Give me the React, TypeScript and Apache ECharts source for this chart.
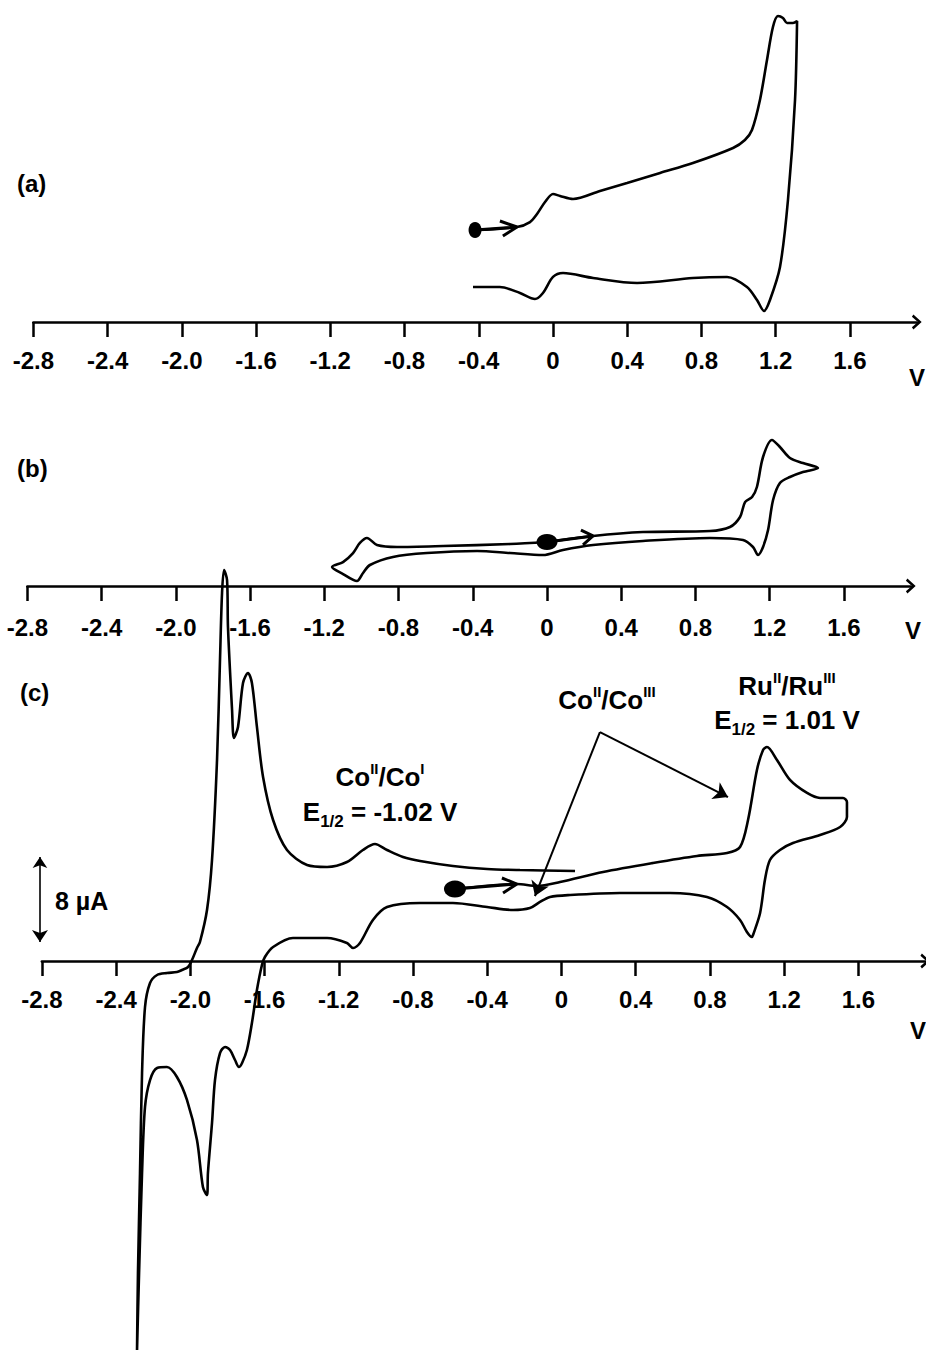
import React, { useEffect, useRef } from "react";
import * as echarts from "echarts";

const FONT = "'Liberation Sans', Arial, Helvetica, sans-serif";

// Potential axis (V)
const TICK_VALUES = [-2.8, -2.4, -2.0, -1.6, -1.2, -0.8, -0.4, 0, 0.4, 0.8, 1.2, 1.6];
const TICK_LABELS = ["-2.8", "-2.4", "-2.0", "-1.6", "-1.2", "-0.8", "-0.4", "0", "0.4", "0.8", "1.2", "1.6"];
const X_MIN = -2.8;
const X_MAX = 1.96;

// Panel (a): [E (V), i (µA)]
const cvA: number[][] = [
  [-0.42, 8.68], [-0.194, 8.96], [-0.124, 9.43], [-0.086, 10.19], [-0.043, 11.32], [0.0, 12.08],
  [0.038, 11.89], [0.108, 11.6], [0.253, 12.36], [0.399, 13.11], [0.577, 14.06], [0.754, 15.0],
  [0.97, 16.42], [1.034, 17.17], [1.072, 18.11], [1.115, 20.94], [1.153, 24.72], [1.185, 27.83],
  [1.212, 28.87], [1.239, 28.68], [1.261, 28.21], [1.293, 28.21], [1.315, 28.4],
  [1.304, 20.94], [1.266, 11.51], [1.223, 5.19], [1.169, 2.08], [1.137, 1.04], [1.099, 2.08],
  [1.045, 3.3], [0.938, 4.25], [0.754, 4.15], [0.453, 3.68], [0.216, 4.15], [0.054, 4.62],
  [0.0, 4.25], [-0.054, 2.74], [-0.097, 2.17], [-0.178, 2.74], [-0.286, 3.3], [-0.431, 3.3],
];

// Panel (b)
const cvB: number[][] = [
  [0.0, 4.15], [0.248, 4.72], [0.517, 5.09], [0.878, 5.19], [0.986, 5.57], [1.04, 6.51],
  [1.067, 7.92], [1.105, 8.4], [1.131, 9.34], [1.164, 12.17], [1.212, 13.77], [1.255, 13.11],
  [1.309, 12.08], [1.379, 11.6], [1.46, 11.13],
  [1.379, 10.75], [1.309, 10.28], [1.255, 9.72], [1.218, 8.11], [1.191, 5.28], [1.164, 3.68],
  [1.137, 2.92], [1.11, 3.68], [1.056, 4.34], [0.878, 4.53], [0.517, 4.25], [0.248, 3.87],
  [0.086, 3.4], [-0.022, 2.92], [-0.199, 3.11], [-0.377, 3.3], [-0.647, 3.11], [-0.83, 2.74],
  [-0.954, 1.98], [-0.991, 1.23], [-1.024, 0.47], [-1.099, 1.13], [-1.158, 1.79],
  [-1.099, 2.26], [-1.045, 3.11], [-1.008, 4.06], [-0.97, 4.53], [-0.916, 3.87], [-0.808, 3.68],
  [-0.56, 3.77], [-0.199, 3.96], [0.0, 4.15],
];

// Panel (c)
const cvC: number[][] = [
  [-0.574, 6.79], [-0.24, 7.26], [-0.132, 7.08], [-0.008, 7.45], [0.224, 8.4], [0.493, 9.25],
  [0.73, 9.91], [0.892, 10.19], [0.962, 10.75], [1.005, 13.3], [1.053, 18.02], [1.086, 19.91],
  [1.107, 20.19], [1.161, 18.96], [1.231, 17.08], [1.323, 15.85], [1.393, 15.38], [1.517, 15.38],
  [1.538, 15.0],
  [1.538, 13.58], [1.501, 12.64], [1.393, 11.89], [1.247, 11.13], [1.177, 10.47], [1.123, 9.53],
  [1.096, 7.64], [1.07, 4.53], [1.032, 2.45], [1.026, 2.26], [0.999, 2.74], [0.962, 3.87],
  [0.892, 5.09], [0.784, 6.04], [0.585, 6.42], [0.315, 6.42], [0.046, 6.23], [-0.062, 6.04],
  [-0.116, 5.57], [-0.17, 5.0], [-0.261, 4.81], [-0.401, 5.09], [-0.585, 5.47], [-0.762, 5.47],
  [-0.94, 5.09], [-1.016, 3.87], [-1.086, 1.7], [-1.123, 1.23], [-1.156, 1.7], [-1.263, 2.17],
  [-1.447, 2.17], [-1.554, 1.32], [-1.598, 0.38], [-1.614, -0.38], [-1.641, -2.74], [-1.668, -5.85],
  [-1.695, -8.4], [-1.721, -9.62], [-1.738, -10.0], [-1.759, -9.34], [-1.786, -8.4], [-1.813, -8.11],
  [-1.84, -8.68], [-1.867, -11.23], [-1.883, -15.28], [-1.905, -20.0], [-1.91, -22.08],
  [-1.932, -21.32], [-1.964, -16.89], [-2.018, -13.11], [-2.072, -10.94], [-2.126, -10.0],
  [-2.179, -10.09], [-2.217, -11.23], [-2.244, -13.77], [-2.26, -20.0], [-2.276, -29.43],
  [-2.287, -36.7],
  [-2.282, -29.43], [-2.271, -20.0], [-2.26, -10.57], [-2.244, -4.34], [-2.217, -2.08],
  [-2.179, -1.32], [-2.126, -1.13], [-2.072, -1.04], [-2.045, -0.85], [-2.012, -0.57],
  [-1.991, 0.09], [-1.964, 1.23], [-1.948, 1.79], [-1.91, 4.81], [-1.883, 9.53], [-1.856, 18.96],
  [-1.84, 28.4], [-1.829, 34.72], [-1.818, 36.89], [-1.802, 35.94], [-1.797, 31.51], [-1.775, 23.68],
  [-1.765, 21.04], [-1.743, 22.08], [-1.716, 26.23], [-1.689, 27.17], [-1.668, 26.23],
  [-1.641, 22.08], [-1.608, 17.36], [-1.554, 13.3], [-1.479, 10.47], [-1.371, 9.06],
  [-1.263, 8.87], [-1.156, 9.34], [-1.07, 10.47], [-1.005, 11.04], [-0.94, 10.47], [-0.854, 9.81],
  [-0.762, 9.43], [-0.585, 8.96], [-0.401, 8.68], [-0.224, 8.58], [0.073, 8.49],
];

// Start points and scan-direction arrows: [start, tip, barb1, tip, barb2]
const startA = [-0.42, 8.68];
const startB = [0.0, 4.15];
const startC = [-0.574, 6.79];
const arrowA = [[-0.42, 8.68], [-0.194, 8.96], [-0.286, 9.53], [-0.194, 8.96], [-0.27, 8.11]];
const arrowB = [[0.0, 4.15], [0.248, 4.72], [0.183, 5.28], [0.248, 4.72], [0.194, 3.87]];
const arrowC = [[-0.574, 6.79], [-0.24, 7.26], [-0.321, 7.83], [-0.24, 7.26], [-0.315, 6.42]];

// Annotation pointers in panel (c)
const coApex = [0.207, 21.6];
const coEnd1 = [-0.143, 6.13];
const coEnd2 = [0.897, 15.47];
// 8 µA scale bar in panel (c)
const scaleBar = [[-2.81, 9.8], [-2.81, 1.8]];

const PX_PER_UA = 10.6;
const PX_PER_V = 185.6;
const GRID_W = (X_MAX - X_MIN) * PX_PER_V;
const panels = [
  { left: 553 - 2.8 * PX_PER_V, top: 0, height: 322, margin: 26 },
  { left: 547 - 2.8 * PX_PER_V, top: 336, height: 250, margin: 29 },
  { left: 561.5 - 2.8 * PX_PER_V, top: 611, height: 350, margin: 26 },
];

const CHEVRON = "path://M0,11 L10,0 L20,11 L17,13 L10,5 L3,13 Z";

function buildOption(): any {
  const grids = panels.map((p) => ({
    left: p.left,
    top: p.top,
    width: GRID_W,
    height: p.height,
    outerBoundsMode: "none",
    containLabel: false,
  }));
  const xAxes = panels.map((p, i) => ({
    type: "value",
    gridIndex: i,
    min: X_MIN,
    max: X_MAX,
    position: "bottom",
    axisLine: {
      show: true,
      onZero: false,
      lineStyle: { color: "#000", width: 2.5 },
      symbol: ["none", CHEVRON],
      symbolSize: [15, 11],
    },
    axisTick: {
      show: true,
      inside: false,
      length: 15,
      customValues: TICK_VALUES,
      lineStyle: { color: "#000", width: 2.5 },
    },
    axisLabel: {
      show: true,
      customValues: TICK_VALUES,
      margin: p.margin,
      fontSize: 24,
      fontWeight: "bold",
      fontFamily: FONT,
      color: "#000",
      formatter: (v: number) => {
        const k = TICK_VALUES.findIndex((t) => Math.abs(t - v) < 1e-6);
        return k >= 0 ? TICK_LABELS[k] : "";
      },
    },
    splitLine: { show: false },
  }));
  const yAxes = panels.map((p, i) => ({
    type: "value",
    gridIndex: i,
    min: 0,
    max: p.height / PX_PER_UA,
    show: false,
    splitLine: { show: false },
  }));

  const curve = (data: number[][], i: number) => ({
    type: "line",
    xAxisIndex: i,
    yAxisIndex: i,
    data,
    smooth: 0.3,
    showSymbol: false,
    clip: false,
    silent: true,
    lineStyle: { color: "#000", width: 2.6 },
    z: 3,
  });
  const arrow = (data: number[][], i: number) => ({
    type: "line",
    xAxisIndex: i,
    yAxisIndex: i,
    data,
    smooth: false,
    showSymbol: false,
    clip: false,
    silent: true,
    lineStyle: { color: "#000", width: 3 },
    z: 4,
  });
  const dot = (pt: number[], i: number, size: number[]) => ({
    type: "scatter",
    xAxisIndex: i,
    yAxisIndex: i,
    data: [pt],
    symbol: "circle",
    symbolSize: size,
    itemStyle: { color: "#000", opacity: 1 },
    clip: false,
    silent: true,
    z: 5,
  });

  const txt = (text: string, x: number, y: number, align: string, size = 24, rich?: any, lineHeight?: number) => ({
    type: "text",
    x,
    y,
    silent: true,
    style: {
      text,
      fontSize: size,
      fontWeight: "bold",
      fontFamily: FONT,
      fill: "#000",
      align,
      verticalAlign: "middle",
      lineHeight,
      rich,
    },
  });
  const sup = { fontSize: 15, fontWeight: "bold", fontFamily: FONT, fill: "#000", verticalAlign: "top" };
  const sub = { fontSize: 17, fontWeight: "bold", fontFamily: FONT, fill: "#000", verticalAlign: "bottom" };

  return {
    animation: false,
    backgroundColor: "#fff",
    grid: grids,
    xAxis: xAxes,
    yAxis: yAxes,
    series: [
      curve(cvA, 0),
      curve(cvB, 1),
      curve(cvC, 2),
      arrow(arrowA, 0),
      arrow(arrowB, 1),
      arrow(arrowC, 2),
      dot(startA, 0, [13, 16]),
      dot(startB, 1, [21, 16]),
      dot(startC, 2, [22, 17]),
      {
        type: "lines",
        coordinateSystem: "cartesian2d",
        xAxisIndex: 2,
        yAxisIndex: 2,
        clip: false,
        silent: true,
        symbol: ["none", "arrow"],
        symbolSize: [10, 14],
        lineStyle: { color: "#000", width: 2, opacity: 1, curveness: 0 },
        data: [{ coords: [coApex, coEnd1] }, { coords: [coApex, coEnd2] }],
        z: 4,
      },
      {
        type: "lines",
        coordinateSystem: "cartesian2d",
        xAxisIndex: 2,
        yAxisIndex: 2,
        clip: false,
        silent: true,
        symbol: ["arrow", "arrow"],
        symbolSize: [11, 12],
        lineStyle: { color: "#000", width: 1.6, opacity: 1, curveness: 0 },
        data: [{ coords: scaleBar }],
        z: 4,
      },
    ],
    graphic: [
      txt("(a)", 17, 183, "left"),
      txt("(b)", 17, 468, "left"),
      txt("(c)", 20, 692, "left"),
      txt("V", 917, 377, "center"),
      txt("V", 913, 630, "center"),
      txt("V", 918, 1030, "center"),
      txt("8 µA", 55, 901, "left", 25),
      txt("Co{sup|II}/Co{sup|I}", 380, 777, "center", 26, { sup }, 32),
      txt("E{sub|1/2} = -1.02 V", 380, 812, "center", 26, { sub }, 36),
      txt("Co{sup|II}/Co{sup|III}", 607, 700, "center", 26, { sup }, 32),
      txt("Ru{sup|II}/Ru{sup|III}", 787, 686, "center", 26, { sup }, 32),
      txt("E{sub|1/2} = 1.01 V", 787, 720, "center", 26, { sub }, 36),
    ],
  };
}

export default function App() {
  const ref = useRef<HTMLDivElement>(null);
  useEffect(() => {
    document.body.style.margin = "0";
    const chart = echarts.init(ref.current!, undefined, { renderer: "svg" });
    chart.setOption(buildOption());
    return () => chart.dispose();
  }, []);
  return <div ref={ref} style={{ width: 926, height: 1351 }} />;
}
